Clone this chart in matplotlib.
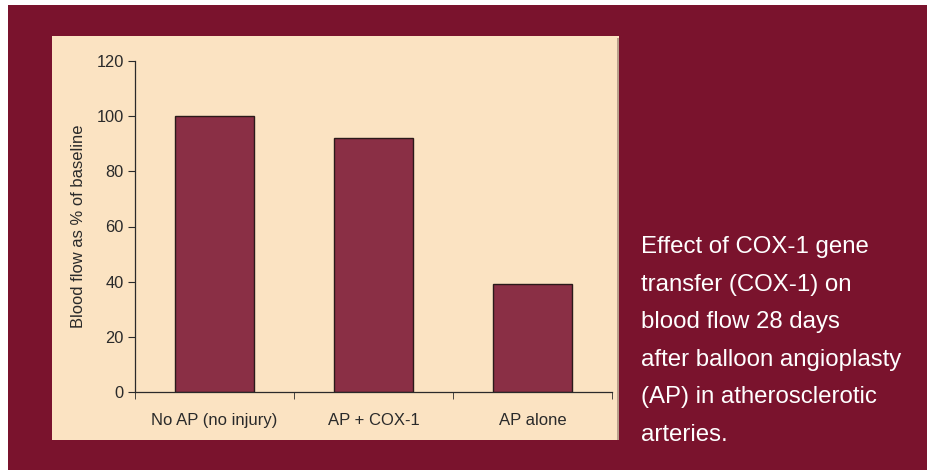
import matplotlib
matplotlib.use("Agg")
import matplotlib.pyplot as plt
from matplotlib.patches import Rectangle

plt.rcParams["font.family"] = ["Liberation Sans", "DejaVu Sans"]

categories = ["No AP (no injury)", "AP + COX-1", "AP alone"]
blood_flow = [100, 92, 39]
y_ticks = [0, 20, 40, 60, 80, 100, 120]
caption = ["Effect of COX-1 gene",
           "transfer (COX-1) on",
           "blood flow 28 days",
           "after balloon angioplasty",
           "(AP) in atherosclerotic",
           "arteries."]

MAROON = "#7a132d"
PANEL = "#fbe3c2"
BAR = "#8a2f45"
INK = "#2a2a2a"

W, H = 928, 470
fig = plt.figure(figsize=(W / 100, H / 100), dpi=100, facecolor="white")

# maroon backdrop and beige chart panel (pixel boxes converted to figure coords)
def px_rect(x0, y0, x1, y1, **kw):
    fig.patches.append(Rectangle((x0 / W, 1 - y1 / H), (x1 - x0) / W, (y1 - y0) / H,
                                 transform=fig.transFigure, zorder=-5, **kw))

px_rect(8, 5, W, H, facecolor=MAROON, edgecolor="none")
px_rect(52, 36, 619, 440, facecolor=PANEL, edgecolor="none")
px_rect(617.5, 38, 619, 440, facecolor="#b9a08c", edgecolor="none")

ax = fig.add_axes([135 / W, 1 - 392 / H, (612 - 135) / W, (392 - 61) / H])
ax.set_facecolor("none")
x = range(len(categories))
ax.bar(x, blood_flow, width=0.5, color=BAR, edgecolor="#2b1a1a", linewidth=1.0)

ax.set_xlim(-0.5, len(categories) - 0.5)
ax.set_ylim(0, 120)
ax.set_yticks(y_ticks)
ax.set_xticks(list(x))
ax.set_xticklabels(categories)
ax.set_xticks([i - 0.5 for i in range(len(categories) + 1)], minor=True)
ax.tick_params(axis="x", which="major", length=0, pad=15, labelsize=12, colors=INK)
ax.tick_params(axis="x", which="minor", length=5, direction="out", color=INK)
ax.tick_params(axis="y", length=5, direction="out", pad=3, labelsize=11.8, colors=INK)

for side in ("top", "right"):
    ax.spines[side].set_visible(False)
for side in ("left", "bottom"):
    ax.spines[side].set_color(INK)
    ax.spines[side].set_linewidth(0.9)

ax.set_ylabel("Blood flow as % of baseline", fontsize=11.9, color=INK)
ax.yaxis.set_label_coords((86 - 135) / (612 - 135), 0.5)

# caption beside the chart, one line at a time
for i, line in enumerate(caption):
    fig.text(641 / W, 1 - (253 + 37.6 * i) / H, line, color="white",
             fontsize=17.3, ha="left", va="baseline")

fig.savefig("out.png", dpi=100, facecolor="white")
